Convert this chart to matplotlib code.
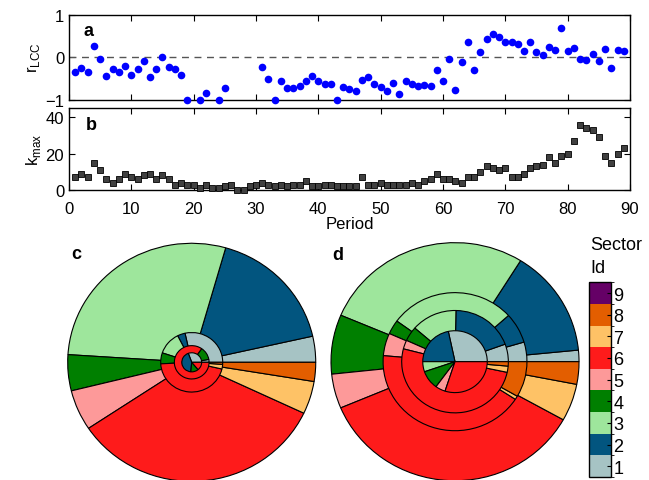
import numpy as np
import matplotlib.pyplot as plt
from matplotlib.colors import ListedColormap, BoundaryNorm
from matplotlib.cm import ScalarMappable

plt.rcParams['font.family'] = ['Liberation Sans', 'DejaVu Sans']
plt.rcParams['font.size'] = 12

nan = np.nan
period = np.arange(1, 90)
r_lcc = [-0.35, -0.25, -0.34, 0.27, -0.04, -0.45, -0.28, -0.34, -0.21, -0.43,
         -0.28, -0.08, -0.47, -0.28, 0.0, -0.23, -0.27, -0.41, -1.0, nan,
         -1.0, -0.85, nan, -1.0, -0.73, nan, nan, nan, nan, nan,
         -0.24, -0.51, -1.0, -0.56, -0.73, -0.73, -0.67, -0.56, -0.45, -0.56,
         -0.63, -0.63, -1.0, -0.71, -0.75, -0.8, -0.53, -0.47, -0.63, -0.7,
         -0.8, -0.6, -0.86, -0.55, -0.64, -0.68, -0.65, -0.68, -0.29, -0.56,
         -0.05, -0.77, -0.12, 0.35, -0.31, 0.12, 0.42, 0.54, 0.47, 0.36,
         0.35, 0.31, 0.14, 0.36, 0.12, 0.05, 0.25, 0.18, 0.69, 0.14,
         0.22, -0.04, -0.06, 0.07, -0.08, 0.2, -0.26, 0.16, 0.14]
k_max = [7, 9, 7, 15, 11, 6, 4, 6, 9, 7,
         6, 8, 9, 6, 8, 6, 3, 4, 3, 3,
         1, 3, 1, 1, 2, 3, 0, 0, 2, 3,
         4, 3, 2, 3, 2, 3, 3, 5, 2, 2,
         3, 3, 2, 2, 2, 2, 7, 3, 3, 4,
         3, 3, 3, 3, 4, 3, 5, 6, 9, 6,
         6, 5, 4, 7, 7, 10, 13, 12, 11, 12,
         7, 7, 9, 12, 13, 14, 18, 15, 19, 20,
         27, 36, 34, 33, 29, 19, 15, 20, 23]

sector_ids = [1, 2, 3, 4, 5, 6, 7, 8, 9]
sector_colors = ['#a6c3c4', '#02557f', '#9ee69c', '#007f00', '#fd9999',
                 '#fe1b1b', '#fec266', '#e35e00', '#650066']

# sector shares (degrees) for sectors 1..9, outermost pie first
c_radii = [1.0, 0.25, 0.14, 0.08]
c_shares = [[12.7, 61.4, 102.2, 17.6, 19.8, 121, 16, 9.3, 0],
            [102.5, 14.5, 44.6, 21.4, 0, 164, 9, 4, 0],
            [10, 0, 0, 45, 0, 305, 0, 0, 0],
            [110, 155, 0, 45, 0, 50, 0, 0, 0]]
d_radii = [1.0, 0.58, 0.43, 0.26]
d_shares = [[5.6, 52.5, 99, 29, 16.8, 128, 18.2, 11, 0],
            [16.5, 25.5, 102, 12, 19, 152, 3, 30, 0],
            [20, 69, 50, 16.5, 10, 182.5, 7, 5, 0],
            [102, 78, 19, 35, 18, 108, 0, 0, 0]]

fig = plt.figure(figsize=(6.49, 4.81), dpi=100)

ax_a = fig.add_axes([0.1063, 0.7906, 0.8644, 0.1767])
ax_a.plot(period, r_lcc, 'o', color='#0000ff', markersize=5.5,
          markeredgewidth=0, clip_on=False, zorder=3)
ax_a.axhline(0, color='#555555', linestyle='--', linewidth=1, dashes=(5, 4))
ax_a.set_xlim(0, 90)
ax_a.set_ylim(-1, 1)
ax_a.set_yticks([-1, 0, 1])
ax_a.set_xticks(range(0, 91, 10))
ax_a.set_xticklabels([])
ax_a.set_ylabel(r'r$_{\mathregular{LCC}}$', labelpad=2)
ax_a.text(0.025, 0.82, 'a', transform=ax_a.transAxes, fontweight='bold',
          va='center', fontsize=13)

ax_b = fig.add_axes([0.1063, 0.6029, 0.8644, 0.1699])
ax_b.plot(period, k_max, 's', color='#404040', markeredgecolor='k',
          markeredgewidth=0.6, markersize=4.6, clip_on=False, zorder=3)
ax_b.set_xlim(0, 90)
ax_b.set_ylim(0, 45)
ax_b.set_yticks([0, 20, 40])
ax_b.set_xticks(range(0, 91, 10))
ax_b.set_xlabel('Period', labelpad=0)
ax_b.set_ylabel(r'k$_{\mathregular{max}}$', labelpad=2)
ax_b.text(0.03, 0.8, 'b', transform=ax_b.transAxes, fontweight='bold',
          va='center', fontsize=13)

for ax in (ax_a, ax_b):
    ax.tick_params(direction='in', top=True, right=True, length=4, width=0.8,
                   labelsize=12)
    for s in ax.spines.values():
        s.set_linewidth(1)
ax_b.tick_params(axis='x', pad=8)


def nested_pie(ax, radii, shares):
    for r, sh in zip(radii, shares):
        vals = [v for v in sh if v > 0]
        cols = [c for v, c in zip(sh, sector_colors) if v > 0]
        ax.pie(vals, radius=r, startangle=0, counterclock=True, colors=cols,
               wedgeprops=dict(edgecolor='k', linewidth=0.8))
    ax.set_aspect('auto')
    ax.set_xlim(-1.02, 1.02)
    ax.set_ylim(-1.02, 1.02)
    ax.axis('off')


ax_c = fig.add_axes([0.1005, -0.0077, 0.3898, 0.5048])
nested_pie(ax_c, c_radii, c_shares)
ax_d = fig.add_axes([0.5062, -0.0064, 0.3898, 0.5048])
nested_pie(ax_d, d_radii, d_shares)
fig.text(76 / 649, 1 - 255 / 481, 'c', fontweight='bold', fontsize=13,
         ha='center', va='center')
fig.text(338 / 649, 1 - 256 / 481, 'd', fontweight='bold', fontsize=13,
         ha='center', va='center')

cax = fig.add_axes([0.908, 0.0062, 0.033, 0.405])
cmap = ListedColormap(sector_colors)
norm = BoundaryNorm(np.arange(0.5, 10.5, 1), cmap.N)
cb = fig.colorbar(ScalarMappable(norm=norm, cmap=cmap), cax=cax,
                  ticks=sector_ids)
cb.ax.tick_params(direction='in', length=3, labelsize=13, pad=2)
cb.outline.set_linewidth(1)
fig.text(590 / 649, 1 - 237 / 481, 'Sector\nId', ha='left', va='top',
         fontsize=13, linespacing=1.45)

fig.savefig('out.png', dpi=100)
